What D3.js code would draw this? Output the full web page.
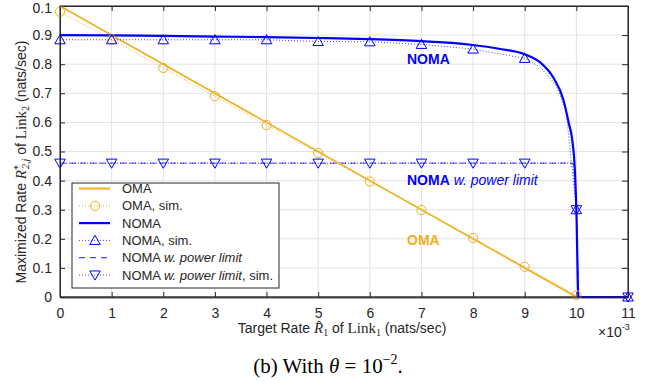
<!DOCTYPE html>
<html>
<head>
<meta charset="utf-8">
<script src="https://cdn.jsdelivr.net/npm/d3@7"></script>
<style>
  body{margin:0;background:#fff;}
  svg{display:block;}
  text{font-family:"Liberation Sans", Arial, sans-serif;fill:#262626;}
</style>
</head>
<body>
<div id="chart"></div>
<script>
// tick values / labels
let xTicks = [0,1,2,3,4,5,6,7,8,9,10,11];
let yTicks = [0,0.1,0.2,0.3,0.4,0.5,0.6,0.7,0.8,0.9,1.0];
let yTickLabels = ["0","0.1","0.2","0.3","0.4","0.5","0.6","0.7","0.8","0.9","0.1"];

// OMA (analytic + simulated)
let omaX = [0,10];
let omaRate = [1.0,0];
let omaSimX = [0,1,2,3,4,5,6,7,8,9,10];
let omaSimRate = [0.98,0.885,0.787,0.69,0.591,0.495,0.397,0.299,0.203,0.104,0.006];

// NOMA analytic curve
let nomaX = [0,1,2,3,4,5,6,7,8,8.5,9,9.3,9.55,9.75,9.85,9.92,9.97,10,10.04,11];
let nomaRate = [0.900,0.899,0.897,0.895,0.893,0.890,0.886,0.879,0.866,0.853,0.834,0.806,0.755,0.677,0.60,0.54,0.44,0.30,0,0];

// NOMA simulated (markers only at integer x)
let nomaSimX = [0,1,2,3,4,5,6,7,8,9,9.3,9.6,9.8,10,10.04,11];
let nomaSimRate = [0.884,0.884,0.884,0.884,0.884,0.878,0.877,0.868,0.852,0.82,0.79,0.73,0.64,0.30,0,0];

// NOMA with power limit
let plX = [0,9.93,9.97,10,10.04,11];
let plRate = [0.46,0.46,0.44,0.30,0,0];
let plSimX = [0,1,2,3,4,5,6,7,8,9,9.93,10,10.04,11];
let plSimRate = [0.46,0.46,0.46,0.46,0.46,0.46,0.46,0.46,0.46,0.46,0.46,0.30,0,0];

let legendLabels = ["OMA","OMA, sim.","NOMA","NOMA, sim.","NOMA w. power limit","NOMA w. power limit, sim."];

let orange = "#EDB120", blue = "#0000ff";
let W = 646, H = 382;
let m = {l:60, r:628, t:6, b:297};

let svg = d3.select("#chart").append("svg").attr("width",W).attr("height",H);

let x = d3.scaleLinear().domain([0,11]).range([m.l,m.r]);
let y = d3.scaleLinear().domain([0,1]).range([m.b,m.t]);

//grid
svg.append("g").selectAll("line").data(xTicks).enter().append("line")
  .attr("x1",d=>x(d)).attr("x2",d=>x(d)).attr("y1",m.t).attr("y2",m.b)
  .attr("stroke","#e3e3e3").attr("stroke-width",1);
svg.append("g").selectAll("line").data(yTicks).enter().append("line")
  .attr("x1",m.l).attr("x2",m.r).attr("y1",d=>y(d)).attr("y2",d=>y(d))
  .attr("stroke","#e3e3e3").attr("stroke-width",1);

// axes with inward ticks, also on top / right (box on)
let gx = svg.append("g").attr("transform",`translate(0,${m.b})`)
  .call(d3.axisBottom(x).tickValues(xTicks).tickSizeInner(-5).tickSizeOuter(0).tickPadding(11));
let gxt = svg.append("g").attr("transform",`translate(0,${m.t})`)
  .call(d3.axisTop(x).tickValues(xTicks).tickSizeInner(-5).tickSizeOuter(0).tickFormat(""));
let gy = svg.append("g").attr("transform",`translate(${m.l},0)`)
  .call(d3.axisLeft(y).tickValues(yTicks).tickSizeInner(-5).tickSizeOuter(0).tickPadding(8)
    .tickFormat((d,i)=>yTickLabels[i]));
let gyr = svg.append("g").attr("transform",`translate(${m.r},0)`)
  .call(d3.axisRight(y).tickValues(yTicks).tickSizeInner(-6).tickSizeOuter(0).tickFormat(""));

[gx,gxt,gy,gyr].forEach(g=>{
  g.selectAll(".domain").attr("stroke","#262626");
  g.selectAll(".tick line").attr("stroke","#262626");
  g.selectAll("text").attr("font-size",14).attr("fill","#262626")
    .style("font-family","'Liberation Sans', Arial, sans-serif");
});
gx.select(".domain").attr("stroke","#555").attr("stroke-width",2);
// top label sits at the very edge, nudge it inside
gy.selectAll(".tick text").filter(d=>d==1).attr("y",2);

let line = d3.line().x(d=>x(d[0])).y(d=>y(d[1]));
let zip = (a,b)=>a.map((v,i)=>[v,b[i]]);

let plot = svg.append("g");

// power limit (dashed) + its sim (dotted)
plot.append("path").datum(zip(plX,plRate)).attr("d",line)
  .attr("fill","none").attr("stroke",blue).attr("stroke-opacity",0.75).attr("stroke-width",1).attr("stroke-dasharray","6,4");
plot.append("path").datum(zip(plSimX,plSimRate)).attr("d",line)
  .attr("fill","none").attr("stroke",blue).attr("stroke-opacity",0.75).attr("stroke-width",1).attr("stroke-dasharray","1,2");

// OMA
plot.append("path").datum(zip(omaSimX,omaSimRate)).attr("d",line)
  .attr("fill","none").attr("stroke",orange).attr("stroke-width",1).attr("stroke-dasharray","1,2");
plot.append("path").datum(zip(omaX,omaRate)).attr("d",line)
  .attr("fill","none").attr("stroke",orange).attr("stroke-width",1.6);

// NOMA
plot.append("path").datum(zip(nomaSimX,nomaSimRate)).attr("d",line)
  .attr("fill","none").attr("stroke",blue).attr("stroke-opacity",0.75).attr("stroke-width",1).attr("stroke-dasharray","1,2");
plot.append("path").datum(zip(nomaX,nomaRate)).attr("d",d3.line().x(d=>x(d[0])).y(d=>y(d[1])).curve(d3.curveMonotoneX))
  .attr("fill","none").attr("stroke",blue).attr("stroke-width",2.2);

// markers
let triUp = d3.symbol().type(d3.symbolTriangle).size(48);
let onTick = d=>Number.isInteger(d[0]);
plot.append("g").selectAll("circle").data(zip(omaSimX,omaSimRate)).enter().append("circle")
  .attr("cx",d=>x(d[0])).attr("cy",d=>y(d[1])).attr("r",4.6)
  .attr("fill","none").attr("stroke",orange).attr("stroke-width",1);
plot.append("g").selectAll("path").data(zip(nomaSimX,nomaSimRate).filter(onTick)).enter().append("path")
  .attr("d",triUp).attr("transform",d=>`translate(${x(d[0])},${y(d[1])+1})`)
  .attr("fill","none").attr("stroke",blue).attr("stroke-width",1);
plot.append("g").selectAll("path").data(zip(plSimX,plSimRate).filter(onTick)).enter().append("path")
  .attr("d",triUp).attr("transform",d=>`translate(${x(d[0])},${y(d[1])-1}) rotate(180)`)
  .attr("fill","none").attr("stroke",blue).attr("stroke-width",1);

// box border (top/right)
svg.append("rect").attr("x",m.l).attr("y",m.t).attr("width",m.r-m.l).attr("height",m.b-m.t)
  .attr("fill","none").attr("stroke","#262626").attr("stroke-width",1);

// in-plot annotations
let ann = svg.append("g").attr("font-size",14);
ann.append("text").attr("x",407).attr("y",64).attr("font-weight","bold").style("fill",blue).text("NOMA");
let a2 = ann.append("text").attr("x",407).attr("y",185).style("fill",blue);
a2.append("tspan").attr("font-weight","bold").text("NOMA");
a2.append("tspan").attr("font-style","italic").text(" w. power limit");
ann.append("text").attr("x",407).attr("y",245).attr("font-weight","bold").style("fill",orange).text("OMA");

// legend
let lg = svg.append("g");
lg.append("rect").attr("x",72).attr("y",183).attr("width",207).attr("height",105)
  .attr("fill","#fff").attr("stroke","#262626").attr("stroke-width",1);
let rowY = i=>188.5+i*17.3;
let legStyles = [
  {c:orange,w:2,dash:null,mk:null},
  {c:orange,w:1,dash:"1,2",mk:"circle"},
  {c:blue,w:2.2,dash:null,mk:null},
  {c:blue,w:1,dash:"1,2",mk:"up"},
  {c:blue,w:1.2,dash:"6,5",mk:null},
  {c:blue,w:1,dash:"1,2",mk:"down"}
];
legendLabels.forEach((lab,i)=>{
  let s = legStyles[i], cy = rowY(i);
  lg.append("line").attr("x1",79).attr("x2",110).attr("y1",cy).attr("y2",cy)
    .attr("stroke",s.c).attr("stroke-width",s.w).attr("stroke-dasharray",s.dash)
    .attr("stroke-opacity",s.c==blue&&s.dash?0.75:1);
  if(s.mk=="circle") lg.append("circle").attr("cx",95).attr("cy",cy).attr("r",4.6).attr("fill","none").attr("stroke",s.c);
  if(s.mk=="up") lg.append("path").attr("d",triUp).attr("transform",`translate(95,${cy+1})`).attr("fill","none").attr("stroke",s.c);
  if(s.mk=="down") lg.append("path").attr("d",triUp).attr("transform",`translate(95,${cy-1}) rotate(180)`).attr("fill","none").attr("stroke",s.c);
  let t = lg.append("text").attr("x",122).attr("y",cy+4.5).attr("font-size",13);
  if(lab.indexOf("w. power limit")>=0){
    t.append("tspan").text("NOMA ");
    t.append("tspan").attr("font-style","italic").text("w. power limit");
    if(lab.endsWith("sim.")) t.append("tspan").text(", sim.");
  } else t.text(lab);
});

// axis labels
let serif = "'Liberation Serif', 'Times New Roman', serif";
let xl = svg.append("text").attr("x",342).attr("y",333).attr("text-anchor","middle").attr("font-size",14);
xl.append("tspan").text("Target Rate  ");
xl.append("tspan").style("font-family",serif).attr("font-style","italic").attr("font-size",15).text("R\u0302");
xl.append("tspan").style("font-family",serif).attr("font-size",10).attr("dy",3).text("1");
xl.append("tspan").attr("dy",-3).text(" of ");
xl.append("tspan").style("font-family",serif).attr("font-size",15).text("Link");
xl.append("tspan").style("font-family",serif).attr("font-size",10).attr("dy",3).text("1");
xl.append("tspan").attr("dy",-3).text(" (nats/sec)");

let ex = svg.append("text").attr("x",598).attr("y",337).attr("font-size",14);
ex.append("tspan").text("\u00d710");
ex.append("tspan").attr("font-size",9).attr("dy",-7).text("-3");

let yl = svg.append("text").attr("transform","translate(26,162) rotate(-90)").attr("text-anchor","middle").attr("font-size",14);
yl.append("tspan").text("Maximized Rate  ");
yl.append("tspan").style("font-family",serif).attr("font-style","italic").attr("font-size",15).text("R");
yl.append("tspan").style("font-family",serif).attr("font-size",10).attr("dy",-5).text("*");
yl.append("tspan").style("font-family",serif).attr("font-style","italic").attr("font-size",10).attr("dx",-4).attr("dy",8).text("2,j");
yl.append("tspan").attr("dy",-3).text(" of ");
yl.append("tspan").style("font-family",serif).attr("font-size",15).text("Link");
yl.append("tspan").style("font-family",serif).attr("font-size",10).attr("dy",3).text("2");
yl.append("tspan").attr("dy",-3).text(" (nats/sec)");

// caption
let cap = svg.append("text").attr("x",328).attr("y",373).attr("text-anchor","middle")
  .attr("font-size",21).style("font-family",serif).style("fill","#000");
cap.append("tspan").text("(b)  With ");
cap.append("tspan").attr("font-style","italic").text("\u03b8");
cap.append("tspan").text(" = 10");
cap.append("tspan").attr("font-size",14).attr("dy",-9).text("\u22122");
cap.append("tspan").attr("dy",9).text(".");
</script>
</body>
</html>
